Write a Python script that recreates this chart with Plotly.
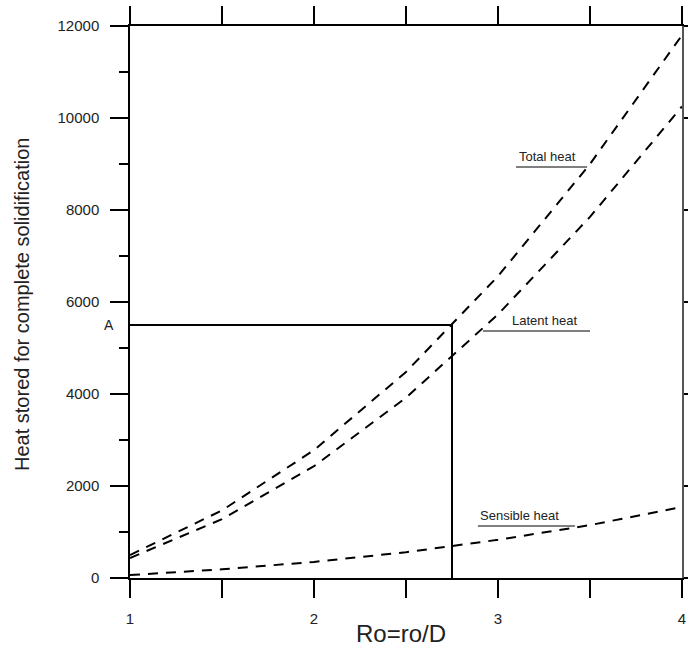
import plotly.graph_objects as go

# ---- data ----
ro = [1.0, 1.5, 2.0, 2.5, 3.0, 3.5, 4.0]
total_heat = [500, 1470, 2780, 4480, 6560, 9000, 11800]
latent_heat = [435, 1280, 2430, 3920, 5730, 7850, 10250]
sensible_heat = [65, 190, 350, 560, 830, 1150, 1545]
point_a_x = 2.75
point_a_y = 5500
x_ticks = [1, 2, 3, 4]
y_ticks = [0, 2000, 4000, 6000, 8000, 10000, 12000]

FONT = "Liberation Sans, Arial, sans-serif"
dash = "10px,8px"

fig = go.Figure()
for ys in (total_heat, latent_heat, sensible_heat):
    fig.add_trace(go.Scatter(x=ro, y=ys, mode="lines",
                             line=dict(color="black", width=2, dash=dash),
                             showlegend=False, hoverinfo="skip"))

# point A guide lines
fig.add_trace(go.Scatter(x=[ro[0], point_a_x, point_a_x], y=[point_a_y, point_a_y, 0],
                         mode="lines", line=dict(color="black", width=2),
                         showlegend=False, hoverinfo="skip"))

# invisible trace for right axis
fig.add_trace(go.Scatter(x=[ro[0]], y=[0], yaxis="y2", mode="markers",
                         marker=dict(opacity=0), showlegend=False, hoverinfo="skip"))

# labels with underlines
labels = [
    ("Total heat", 3.098, 3.484, 8935),
    ("Latent heat", 2.918, 3.50, 5370),
    ("Sensible heat", 2.891, 3.418, 1130),
]
text_centers = [3.27, 3.253, 3.117]
for (txt, x0, x1, yv), xc in zip(labels, text_centers):
    fig.add_shape(type="line", x0=x0, x1=x1, y0=yv, y1=yv, xref="x", yref="y",
                  line=dict(color="#555555", width=1.5))
    fig.add_annotation(x=xc, y=yv, text=txt, showarrow=False, xanchor="center",
                       yanchor="bottom", yshift=1,
                       font=dict(family=FONT, size=13, color="#222222"))

fig.add_annotation(x=ro[0], y=point_a_y, text="A", showarrow=False, xanchor="right",
                   yanchor="middle", xshift=-14,
                   font=dict(family=FONT, size=14, color="#222222"))

# axis titles
fig.add_annotation(xref="paper", yref="paper", x=0.491, y=-0.101, text="Ro=ro/D",
                   showarrow=False, xanchor="center", yanchor="middle",
                   font=dict(family=FONT, size=24, color="#222222"))
fig.add_annotation(xref="paper", yref="paper", x=-0.196, y=0.496,
                   text="Heat stored for complete solidification", textangle=-90,
                   showarrow=False, xanchor="center", yanchor="middle",
                   font=dict(family=FONT, size=20, color="#222222"))

fig.update_layout(
    width=688, height=654,
    margin=dict(l=130, r=6, t=26, b=76, autoexpand=False),
    paper_bgcolor="white", plot_bgcolor="white",
    xaxis=dict(range=[1, 4], tickvals=x_ticks, ticks="outside", ticklen=18,
               tickwidth=1.5, tickcolor="black", showline=True, linecolor="black",
               linewidth=1.5, mirror="allticks", showgrid=False, zeroline=False,
               automargin=False,
               minor=dict(dtick=0.5, ticks="outside", ticklen=9, tickwidth=1.5,
                          tickcolor="black", showgrid=False),
               tickfont=dict(family=FONT, size=15, color="#222222"),
               ticklabelstandoff=8),
    yaxis=dict(range=[0, 12000], tickvals=y_ticks, tickformat="d", ticks="outside",
               ticklen=18, tickwidth=1.5, tickcolor="black", showline=True,
               linecolor="black", automargin=False,
               linewidth=1.5, showgrid=False, zeroline=False,
               minor=dict(dtick=1000, ticks="outside", ticklen=9, tickwidth=1.5,
                          tickcolor="black", showgrid=False),
               tickfont=dict(family=FONT, size=15, color="#222222"),
               ticklabelstandoff=8),
    yaxis2=dict(range=[0, 12000], tickvals=y_ticks, ticks="outside", ticklen=18,
                tickwidth=1.5, tickcolor="black", showline=True, linecolor="#555555",
                linewidth=1.5, showgrid=False, zeroline=False, overlaying="y",
                side="right", showticklabels=False, automargin=False),
)

fig.write_html("out.html")
